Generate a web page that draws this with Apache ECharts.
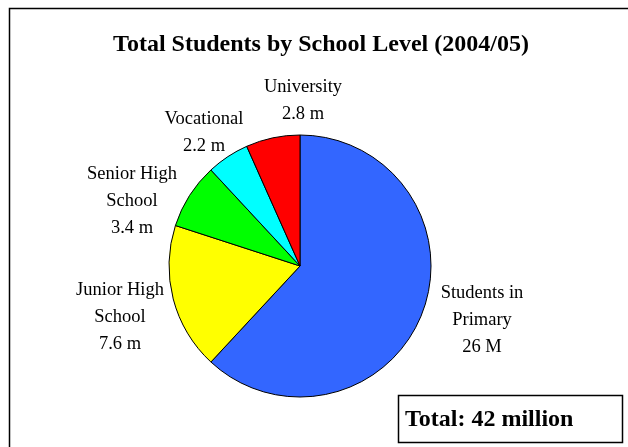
<!DOCTYPE html>
<html>
<head>
<meta charset="utf-8">
<script src="https://cdn.jsdelivr.net/npm/echarts@6/dist/echarts.min.js"></script>
<style>
  html, body { margin: 0; padding: 0; background: #fff; }
  #chart { width: 628px; height: 447px; }
</style>
</head>
<body>
<div id="chart"></div>
<script>
// === data ===
const levels = ['Students in\nPrimary', 'Junior High\nSchool', 'Senior High\nSchool', 'Vocational', 'University']
const students = [26, 7.6, 3.4, 2.2, 2.8] // millions
const valueLabels = ['26 M', '7.6 m', '3.4 m', '2.2 m', '2.8 m']
const colors = ['#3366FF', '#FFFF00', '#00FF00', '#00FFFF', '#FF0000']

// label centres (layout only, Excel-style placement)
const labelCenters = [[482, 320], [120, 317], [132, 201], [204, 133], [303, 101]]

const serif = "'Liberation Serif', 'Times New Roman', serif"
const total = students.reduce((a, b) => a + b, 0)

const chart = echarts.init(document.getElementById('chart'))

const option = {
  animation: false,
  backgroundColor: '#fff',
  graphic: [
    // outer frame (runs off the bottom/right of the picture)
    {
      type: 'rect',
      shape: { x: 9.5, y: 8.5, width: 640, height: 460 },
      style: { fill: 'none', stroke: '#000', lineWidth: 1.5 },
      silent: true,
    },
    {
      type: 'text',
      x: 321,
      y: 45,
      style: {
        text: 'Total Students by School Level (2004/05)',
        font: `bold 24px ${serif}`,
        fill: '#000',
        align: 'center',
        verticalAlign: 'middle',
      },
    },
    {
      type: 'rect',
      shape: { x: 398.5, y: 395.5, width: 224, height: 47 },
      style: { fill: '#fff', stroke: '#000', lineWidth: 1.5 },
    },
    {
      type: 'text',
      x: 405,
      y: 420,
      style: {
        text: `Total: ${Math.round(total)} million`,
        font: `bold 24px ${serif}`,
        fill: '#000',
        align: 'left',
        verticalAlign: 'middle',
      },
    },
  ],
  series: [
    {
      type: 'pie',
      center: [300, 266],
      radius: 131,
      startAngle: 90,
      clockwise: true,
      silent: true,
      itemStyle: { borderColor: '#000', borderWidth: 1 },
      label: {
        show: true,
        position: 'outside',
        fontFamily: serif,
        fontSize: 18.5,
        lineHeight: 27,
        color: '#000',
        align: 'center',
        formatter: (p) => `${p.name}\n${valueLabels[p.dataIndex]}`,
      },
      labelLine: { show: false },
      labelLayout: (p) => ({
        x: labelCenters[p.dataIndex][0],
        y: labelCenters[p.dataIndex][1],
        align: 'center',
        verticalAlign: 'middle',
      }),
      data: levels.map((name, i) => ({
        name,
        value: students[i],
        itemStyle: { color: colors[i] },
      })),
    },
  ],
}

chart.setOption(option)
</script>
</body>
</html>
